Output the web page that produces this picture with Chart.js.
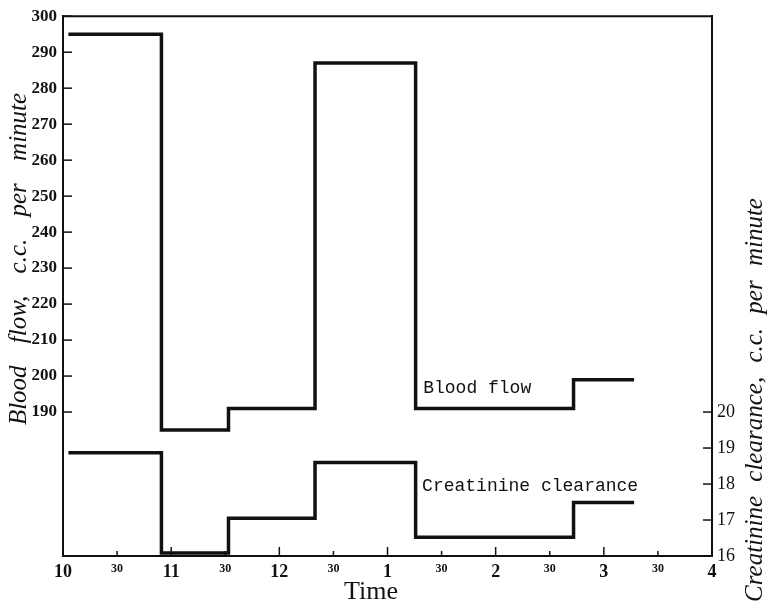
<!DOCTYPE html>
<html>
<head>
<meta charset="utf-8">
<script src="https://cdn.jsdelivr.net/npm/chart.js@4/dist/chart.umd.min.js"></script>
<style>
  html, body { margin: 0; padding: 0; background: #fff; }
  #wrap { width: 769px; height: 607px; position: relative; }
</style>
</head>
<body>
<div id="wrap"><canvas id="c"></canvas></div>
<script>
// ---- data ----
const stepTimes   = [10.05, 10.91, 11.53, 12.33, 13.26, 14.72, 15.28]; // hours, segment starts (+ final end)
const bloodFlow   = [295, 185, 191, 287, 191, 199, 199];               // c.c. per minute (left axis)
const creatinine  = [18.87, 16.08, 17.05, 18.6, 16.52, 17.49, 17.49];  // c.c. per minute (right axis)
const timeTicks   = [10, 10.5, 11, 11.5, 12, 12.5, 13, 13.5, 14, 14.5, 15, 15.5, 16];
const timeLabels  = ['10','30','11','30','12','30','1','30','2','30','3','30','4'];
const leftTicks   = [190, 200, 210, 220, 230, 240, 250, 260, 270, 280, 290, 300];
const rightTicks  = [16, 17, 18, 19, 20];
const seriesNames = ['Blood flow', 'Creatinine clearance'];
const titles = {
  left: 'Blood flow, c.c. per minute',
  right: 'Creatinine clearance, c.c. per minute',
  x: 'Time'
};

const toPoints = (vals) => vals.map((v, i) => ({ x: stepTimes[i], y: v }));

const ink = '#111';
const serif = '"Liberation Serif", "DejaVu Serif", serif';
const mono = '"Liberation Mono", "DejaVu Sans Mono", monospace';

const decorPlugin = {
  id: 'decor',
  afterDraw(chart) {
    const ctx = chart.ctx;
    const ca = chart.chartArea;
    const xs = chart.scales.x, yl = chart.scales.yL, yr = chart.scales.yR;
    ctx.save();
    ctx.strokeStyle = ink;
    ctx.lineWidth = 2;
    // top border
    ctx.beginPath();
    ctx.moveTo(ca.left - 1, ca.top);
    ctx.lineTo(ca.right + 1, ca.top);
    ctx.stroke();
    ctx.lineWidth = 1.5;
    // inward x ticks
    xs.ticks.forEach((t, i) => {
      const px = xs.getPixelForValue(t.value);
      const len = (i % 2 === 0) ? 9 : 5;
      ctx.beginPath();
      ctx.moveTo(px, ca.bottom);
      ctx.lineTo(px, ca.bottom - len);
      ctx.stroke();
    });
    // inward left ticks
    yl.ticks.forEach(t => {
      const py = yl.getPixelForValue(t.value);
      ctx.beginPath();
      ctx.moveTo(ca.left, py);
      ctx.lineTo(ca.left + 9, py);
      ctx.stroke();
    });
    // inward right ticks
    yr.ticks.forEach(t => {
      const py = yr.getPixelForValue(t.value);
      ctx.beginPath();
      ctx.moveTo(ca.right, py);
      ctx.lineTo(ca.right - 9, py);
      ctx.stroke();
    });

    // series labels
    ctx.fillStyle = ink;
    ctx.font = '18px ' + mono;
    ctx.textBaseline = 'middle';
    ctx.textAlign = 'left';
    ctx.fillText(seriesNames[0], xs.getPixelForValue(13.33), yl.getPixelForValue(196.5));
    ctx.fillText(seriesNames[1], xs.getPixelForValue(13.32), yr.getPixelForValue(17.93));

    // axis titles
    ctx.font = 'italic 25px ' + serif;
    ctx.textAlign = 'center';
    if ('wordSpacing' in ctx) ctx.wordSpacing = '16px';
    ctx.save();
    ctx.translate(19, 259);
    ctx.rotate(-Math.PI / 2);
    ctx.fillText(titles.left, 0, 0);
    ctx.restore();

    if ('wordSpacing' in ctx) ctx.wordSpacing = '8px';
    ctx.save();
    ctx.translate(755, 400);
    ctx.rotate(-Math.PI / 2);
    ctx.fillText(titles.right, 0, 0);
    ctx.restore();

    if ('wordSpacing' in ctx) ctx.wordSpacing = '0px';
    ctx.font = '26px ' + serif;
    ctx.textBaseline = 'middle';
    ctx.fillText(titles.x, 371, 592);
    ctx.restore();
  }
};

new Chart(document.getElementById('c'), {
  type: 'line',
  data: {
    datasets: [
      {
        label: seriesNames[0],
        data: toPoints(bloodFlow),
        yAxisID: 'yL',
        stepped: 'before',
        borderColor: ink,
        borderWidth: 3.5,
        pointRadius: 0,
        fill: false
      },
      {
        label: seriesNames[1],
        data: toPoints(creatinine),
        yAxisID: 'yR',
        stepped: 'before',
        borderColor: ink,
        borderWidth: 3.5,
        pointRadius: 0,
        fill: false
      }
    ]
  },
  options: {
    responsive: true,
    maintainAspectRatio: false,
    animation: false,
    layout: { padding: { top: 13, left: 0, right: 0, bottom: 0 } },
    plugins: { legend: { display: false }, tooltip: { enabled: false } },
    scales: {
      x: {
        type: 'linear',
        min: 10, max: 16,
        afterBuildTicks: (s) => { s.ticks = timeTicks.map(v => ({ value: v })); },
        afterFit: (s) => { s.height = 51; },
        grid: { display: false, drawTicks: false },
        border: { display: true, color: ink, width: 2 },
        ticks: {
          autoSkip: false,
          maxRotation: 0,
          padding: 6,
          color: ink,
          callback: (v, i) => timeLabels[i],
          font: (c) => (c.index % 2 === 0)
            ? { family: serif, size: 18, weight: 'bold' }
            : { family: serif, size: 12, weight: 'bold' }
        }
      },
      yL: {
        type: 'linear',
        position: 'left',
        min: 150, max: 300,
        afterBuildTicks: (s) => { s.ticks = leftTicks.map(v => ({ value: v })); },
        afterFit: (s) => { s.width = 63; },
        grid: { display: false, drawTicks: false },
        border: { display: true, color: ink, width: 2 },
        ticks: { padding: 6, color: ink, font: { family: serif, size: 17, weight: 'bold' } }
      },
      yR: {
        type: 'linear',
        position: 'right',
        min: 16, max: 31,
        afterBuildTicks: (s) => { s.ticks = rightTicks.map(v => ({ value: v })); },
        afterFit: (s) => { s.width = 57; },
        grid: { display: false, drawTicks: false },
        border: { display: true, color: ink, width: 2 },
        ticks: { padding: 5, color: ink, font: { family: serif, size: 18 } }
      }
    }
  },
  plugins: [decorPlugin]
});
</script>
</body>
</html>
